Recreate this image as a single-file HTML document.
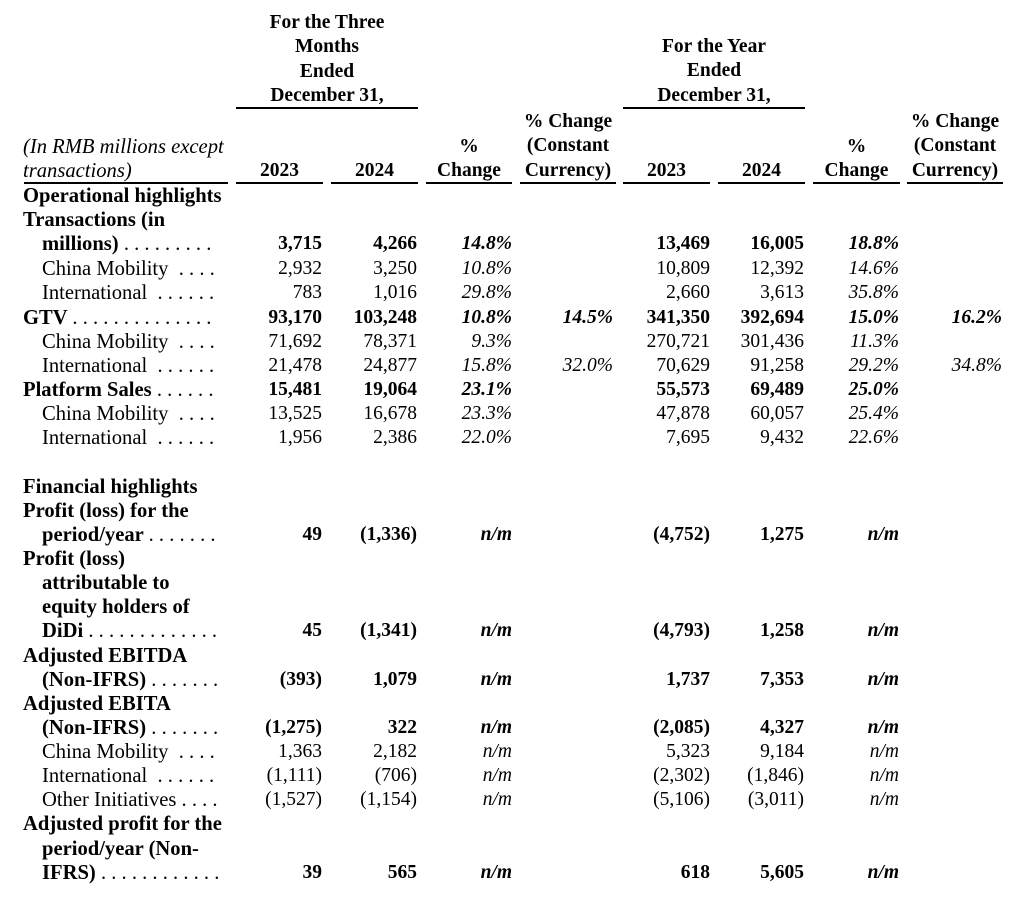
<!DOCTYPE html>
<html><head><meta charset="utf-8"><style>
body{margin:0;width:1024px;height:906px;background:#fff;overflow:hidden;font-family:"Liberation Serif",serif;font-size:19.5px;color:#000}
.r{position:absolute;left:0;width:1024px;height:24px;line-height:24px;white-space:nowrap}
.r span{position:absolute}
.l{left:23px;font-size:20.6px}.l2{left:42px;font-size:20.6px}
.a{right:702px}.b{right:607px}.c{right:512px}.d{right:411px}.e{right:314px}.f{right:220px}.g{right:125px}.h{right:22px}
.B{font-weight:bold}.I{font-style:italic}
.u{position:absolute;height:2px;background:#000}
.hd{position:absolute;font-weight:bold;text-align:center;line-height:24.3px}
</style></head><body>
<div class="hd" style="left:236px;width:182px;top:11px">For the Three<br>Months<br>Ended<br>December 31,</div>
<div class="hd" style="left:623px;width:182px;top:35px">For the Year<br>Ended<br>December 31,</div>
<div class="u" style="left:236px;width:182px;top:107px"></div>
<div class="u" style="left:623px;width:182px;top:107px"></div>
<div class="hd" style="left:516px;width:104px;top:110px">% Change<br>(Constant<br>Currency)</div>
<div class="hd" style="left:903px;width:104px;top:110px">% Change<br>(Constant<br>Currency)</div>
<div class="hd" style="left:426px;width:86px;top:135px">%<br>Change</div>
<div class="hd" style="left:813px;width:87px;top:135px">%<br>Change</div>
<div class="hd" style="left:236px;width:87px;top:159px">2023</div>
<div class="hd" style="left:331px;width:87px;top:159px">2024</div>
<div class="hd" style="left:623px;width:87px;top:159px">2023</div>
<div class="hd" style="left:718px;width:87px;top:159px">2024</div>
<div class="r I" style="top:135px"><span class="l">(In RMB millions except</span></div>
<div class="r I" style="top:159px"><span class="l">transactions)</span></div>
<div class="u" style="left:24px;width:204px;top:182px"></div>
<div class="u" style="left:236px;width:87px;top:182px"></div>
<div class="u" style="left:331px;width:87px;top:182px"></div>
<div class="u" style="left:426px;width:86px;top:182px"></div>
<div class="u" style="left:520px;width:96px;top:182px"></div>
<div class="u" style="left:623px;width:87px;top:182px"></div>
<div class="u" style="left:718px;width:87px;top:182px"></div>
<div class="u" style="left:813px;width:87px;top:182px"></div>
<div class="u" style="left:907px;width:96px;top:182px"></div>

<div class="r B" style="top:184px"><span class="l">Operational highlights</span></div>
<div class="r B" style="top:208px"><span class="l">Transactions (in</span></div>
<div class="r" style="top:232px"><span class="l2 B">millions) <span style="position:static;font-weight:normal">. . . . . . . . .</span></span><span class="a B">3,715</span><span class="b B">4,266</span><span class="c B I">14.8%</span><span class="e B">13,469</span><span class="f B">16,005</span><span class="g B I">18.8%</span></div>
<div class="r" style="top:257px"><span class="l2">China Mobility&nbsp; . . . .</span><span class="a">2,932</span><span class="b">3,250</span><span class="c I">10.8%</span><span class="e">10,809</span><span class="f">12,392</span><span class="g I">14.6%</span></div>
<div class="r" style="top:281px"><span class="l2">International&nbsp; . . . . . .</span><span class="a">783</span><span class="b">1,016</span><span class="c I">29.8%</span><span class="e">2,660</span><span class="f">3,613</span><span class="g I">35.8%</span></div>
<div class="r" style="top:306px"><span class="l B">GTV <span style="position:static;font-weight:normal">. . . . . . . . . . . . . .</span></span><span class="a B">93,170</span><span class="b B">103,248</span><span class="c B I">10.8%</span><span class="d B I">14.5%</span><span class="e B">341,350</span><span class="f B">392,694</span><span class="g B I">15.0%</span><span class="h B I">16.2%</span></div>
<div class="r" style="top:330px"><span class="l2">China Mobility&nbsp; . . . .</span><span class="a">71,692</span><span class="b">78,371</span><span class="c I">9.3%</span><span class="e">270,721</span><span class="f">301,436</span><span class="g I">11.3%</span></div>
<div class="r" style="top:354px"><span class="l2">International&nbsp; . . . . . .</span><span class="a">21,478</span><span class="b">24,877</span><span class="c I">15.8%</span><span class="d I">32.0%</span><span class="e">70,629</span><span class="f">91,258</span><span class="g I">29.2%</span><span class="h I">34.8%</span></div>
<div class="r" style="top:378px"><span class="l B">Platform Sales <span style="position:static;font-weight:normal">. . . . . .</span></span><span class="a B">15,481</span><span class="b B">19,064</span><span class="c B I">23.1%</span><span class="e B">55,573</span><span class="f B">69,489</span><span class="g B I">25.0%</span></div>
<div class="r" style="top:402px"><span class="l2">China Mobility&nbsp; . . . .</span><span class="a">13,525</span><span class="b">16,678</span><span class="c I">23.3%</span><span class="e">47,878</span><span class="f">60,057</span><span class="g I">25.4%</span></div>
<div class="r" style="top:426px"><span class="l2">International&nbsp; . . . . . .</span><span class="a">1,956</span><span class="b">2,386</span><span class="c I">22.0%</span><span class="e">7,695</span><span class="f">9,432</span><span class="g I">22.6%</span></div>

<div class="r B" style="top:475px"><span class="l">Financial highlights</span></div>
<div class="r B" style="top:499px"><span class="l">Profit (loss) for the</span></div>
<div class="r B" style="top:523px"><span class="l2">period/year <span style="position:static;font-weight:normal">. . . . . . .</span></span><span class="a">49</span><span class="b">(1,336)</span><span class="c I">n/m</span><span class="e">(4,752)</span><span class="f">1,275</span><span class="g I">n/m</span></div>
<div class="r B" style="top:547px"><span class="l">Profit (loss)</span></div>
<div class="r B" style="top:571px"><span class="l2">attributable to</span></div>
<div class="r B" style="top:595px"><span class="l2">equity holders of</span></div>
<div class="r B" style="top:619px"><span class="l2">DiDi <span style="position:static;font-weight:normal">. . . . . . . . . . . . .</span></span><span class="a">45</span><span class="b">(1,341)</span><span class="c I">n/m</span><span class="e">(4,793)</span><span class="f">1,258</span><span class="g I">n/m</span></div>
<div class="r B" style="top:644px"><span class="l">Adjusted EBITDA</span></div>
<div class="r B" style="top:668px"><span class="l2">(Non-IFRS) <span style="position:static;font-weight:normal">. . . . . . .</span></span><span class="a">(393)</span><span class="b">1,079</span><span class="c I">n/m</span><span class="e">1,737</span><span class="f">7,353</span><span class="g I">n/m</span></div>
<div class="r B" style="top:692px"><span class="l">Adjusted EBITA</span></div>
<div class="r B" style="top:716px"><span class="l2">(Non-IFRS) <span style="position:static;font-weight:normal">. . . . . . .</span></span><span class="a">(1,275)</span><span class="b">322</span><span class="c I">n/m</span><span class="e">(2,085)</span><span class="f">4,327</span><span class="g I">n/m</span></div>
<div class="r" style="top:740px"><span class="l2">China Mobility&nbsp; . . . .</span><span class="a">1,363</span><span class="b">2,182</span><span class="c I">n/m</span><span class="e">5,323</span><span class="f">9,184</span><span class="g I">n/m</span></div>
<div class="r" style="top:764px"><span class="l2">International&nbsp; . . . . . .</span><span class="a">(1,111)</span><span class="b">(706)</span><span class="c I">n/m</span><span class="e">(2,302)</span><span class="f">(1,846)</span><span class="g I">n/m</span></div>
<div class="r" style="top:788px"><span class="l2">Other Initiatives . . . .</span><span class="a">(1,527)</span><span class="b">(1,154)</span><span class="c I">n/m</span><span class="e">(5,106)</span><span class="f">(3,011)</span><span class="g I">n/m</span></div>
<div class="r B" style="top:812px"><span class="l">Adjusted profit for the</span></div>
<div class="r B" style="top:837px"><span class="l2">period/year (Non-</span></div>
<div class="r B" style="top:861px"><span class="l2">IFRS) <span style="position:static;font-weight:normal">. . . . . . . . . . . .</span></span><span class="a">39</span><span class="b">565</span><span class="c I">n/m</span><span class="e">618</span><span class="f">5,605</span><span class="g I">n/m</span></div>
</body></html>
